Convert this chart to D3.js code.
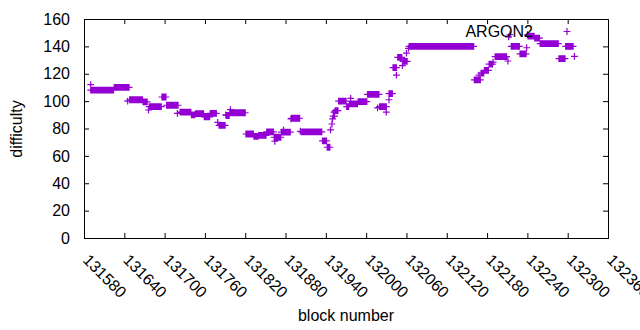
<!DOCTYPE html>
<html>
<head>
<meta charset="utf-8">
<script src="https://cdn.jsdelivr.net/npm/d3@7"></script>
<style>
  html, body { margin: 0; padding: 0; background: #fff; }
  svg { display: block; }
  text { font-family: "Liberation Sans", Arial, sans-serif; font-size: 16px; fill: #000; }
</style>
</head>
<body>
<svg id="chart" width="640" height="330"></svg>
<script>
// Runs of consecutive blocks sharing one difficulty (start block, end block, difficulty)
const runStart = [131590,131625,131648,131668,131677,131696,131703,131723,131740,131746,131759,131768,131781,131792,131797,131821,131833,131840,131852,131863,131874,131889,131904,131935,131942,131951,131954,131959,131971,131975,131988,132002,132020,132034,132040,132047,132055,132064,132161,132171,132176,132183,132192,132216,132229,132241,132251,132259,132287,132297];
const runEnd   = [131624,131647,131667,131674,131695,131702,131720,131739,131745,131758,131767,131777,131790,131796,131820,131832,131839,131851,131862,131873,131887,131901,131934,131941,131946,131953,131958,131970,131974,131987,132001,132019,132030,132039,132045,132053,132061,132160,132170,132175,132182,132188,132209,132228,132238,132250,132258,132286,132296,132308];
const runDiff  = [108,110,101,99.5,96,103,97,92,90,90.8,88.5,91,82.3,89.5,91.5,76,74.3,75,77.5,73.6,77.3,87.5,77.5,71,66.3,89,93,100,96,98,99.6,105,96,105.5,124.5,132,129,140,115.5,120.5,122.5,127,132.5,140,134.5,147.5,146,142,131,140];
// Isolated blocks
const singleBlock = [131590,131645,131676,131719,131779,131791,131798,131864,131877,131888,131902,131947,131949,131950,131952,131977,132017,132030,132034,132045,132054,132060,132063,132168,132189,132211,132212,132214,132239,132240,132310];
const singleDiff  = [112,100,93.5,91,84.5,90,93.8,70.7,79,87,78,79,83.3,87,92,102,95,92,101,119,126,135,138.5,119,128.5,129.3,147,148.5,139,148.5,132.7];
const xTicks = [131580,131640,131700,131760,131820,131880,131940,132000,132060,132120,132180,132240,132300,132360];
const yTicks = [0,20,40,60,80,100,120,140,160];
const seriesName = "ARGON2";

// expand runs into one point per block
const points = [];
runStart.forEach((s, i) => {
  for (let b = s; b <= runEnd[i]; b++) points.push([b, runDiff[i]]);
});
singleBlock.forEach((b, i) => points.push([b, singleDiff[i]]));

const svg = d3.select("#chart");
const L = 84, R = 608, T = 19, B = 238;
const x = d3.scaleLinear().domain([131580, 132360]).range([L, R]);
const y = d3.scaleLinear().domain([0, 160]).range([B, T]);
const color = "#9400d3";
const tick = 5;

// data points ("+" markers)
const h = 3.4;
const plus = (px, py) => `M${px - h},${py}H${px + h}M${px},${py - h}V${py + h}`;
svg.append("path")
  .attr("d", points.map(p => plus(x(p[0]), y(p[1]))).join(""))
  .attr("stroke", color).attr("stroke-width", 1.2).attr("fill", "none");

// axes via d3
const gx = svg.append("g").attr("transform", `translate(0,${B})`)
  .call(d3.axisBottom(x).tickValues(xTicks).tickSize(-tick).tickFormat(""));
const gxt = svg.append("g").attr("transform", `translate(0,${T})`)
  .call(d3.axisTop(x).tickValues(xTicks).tickSize(-tick).tickFormat(""));
const gy = svg.append("g").attr("transform", `translate(${L},0)`)
  .call(d3.axisLeft(y).tickValues(yTicks).tickSize(-tick).tickFormat(d3.format("d")).tickPadding(14));
const gyr = svg.append("g").attr("transform", `translate(${R},0)`)
  .call(d3.axisRight(y).tickValues(yTicks).tickSize(-tick).tickFormat(""));
[gx, gxt, gy, gyr].forEach(g => {
  g.select(".domain").remove();
  g.selectAll("line").attr("stroke", "#000").attr("stroke-width", 1);
});
gy.selectAll("text").style("font-size", "16px").style("font-family", "Liberation Sans, Arial, sans-serif").attr("fill", "#000");

// rotated x tick labels
svg.append("g").selectAll("text").data(xTicks).join("text")
  .attr("transform", d => `translate(${x(d) - 2},261) rotate(45)`)
  .attr("text-anchor", "start")
  .text(d => d);

// border
svg.append("rect").attr("x", L + 0.5).attr("y", T + 0.5)
  .attr("width", R - L).attr("height", B - T)
  .attr("fill", "none").attr("stroke", "#000").attr("stroke-width", 1);

// axis titles
svg.append("text").attr("x", (L + R) / 2).attr("y", 321).attr("text-anchor", "middle").text("block number");
svg.append("text").attr("transform", "translate(22,129) rotate(-90)").attr("text-anchor", "middle").text("difficulty");

// legend
svg.append("text").attr("x", 533).attr("y", 37).attr("text-anchor", "end").text(seriesName);
svg.append("path").attr("d", plus(567, 31.5)).attr("stroke", color).attr("stroke-width", 1.2).attr("fill", "none");
</script>
</body>
</html>
